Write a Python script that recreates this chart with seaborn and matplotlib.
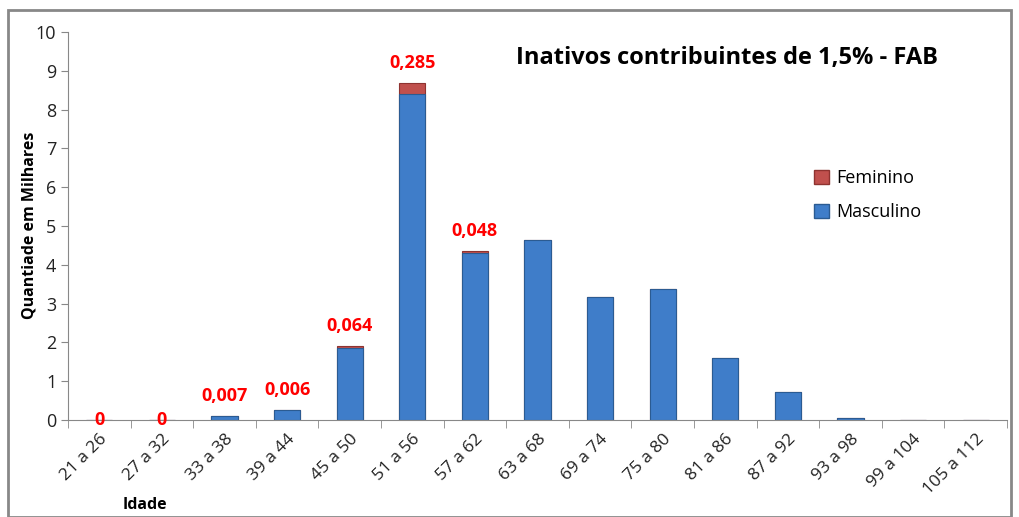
import pandas as pd
import matplotlib.pyplot as plt
import matplotlib.patches as mpatches
import seaborn as sns

# data (thousands)
faixas = ['21 a 26', '27 a 32', '33 a 38', '39 a 44', '45 a 50', '51 a 56', '57 a 62', '63 a 68',
          '69 a 74', '75 a 80', '81 a 86', '87 a 92', '93 a 98', '99 a 104', '105 a 112']
masculino = [0.005, 0.005, 0.10, 0.25, 1.85, 8.41, 4.31, 4.64, 3.18, 3.37, 1.60, 0.73, 0.06, 0.005, 0.005]
feminino = [0, 0, 0.007, 0.006, 0.064, 0.285, 0.048, 0.004, 0.002, 0.002, 0.001, 0.001, 0, 0, 0]
rotulos = ['0', '0', '0,007', '0,006', '0,064', '0,285', '0,048', '', '', '', '', '', '', '', '']

data = pd.DataFrame({'Idade': faixas, 'Masculino': masculino, 'Feminino': feminino})
data['Total'] = data['Masculino'] + data['Feminino']

sns.set_style("white")
plt.rcParams['font.family'] = ['Open Sans', 'DejaVu Sans']
plt.rcParams['text.color'] = 'black'

fig = plt.figure(figsize=(10.19, 5.17), dpi=100)
ax = fig.add_axes([68 / 1019, 1 - 420 / 517, (1007 - 68) / 1019, (420 - 32) / 517])

# stacked bars: total (red) behind, male (blue) in front
sns.barplot(data=data, x='Idade', y='Total', color='#C0504D', width=0.42, saturation=1,
            edgecolor='#8E3330', linewidth=0.8, ax=ax)
sns.barplot(data=data, x='Idade', y='Masculino', color='#3F7DC9', width=0.42, saturation=1,
            edgecolor='#2B5B92', linewidth=0.8, ax=ax)

# value labels for the female series
for i, txt in enumerate(rotulos):
    if not txt:
        continue
    if data['Total'][i] < 0.01:
        ax.text(i, 0, txt, color='red', fontsize=13, fontweight='bold', ha='center', va='center')
    else:
        ax.annotate(txt, (i, data['Total'][i]), xytext=(0, 8), textcoords='offset points',
                    color='red', fontsize=13, fontweight='bold', ha='center', va='bottom')

ax.set_ylim(0, 10)
ax.set_xlim(-0.5, len(faixas) - 0.5)
ax.set_yticks(range(0, 11))
ax.tick_params(axis='y', labelsize=13, length=5, color='#888888', left=True, labelcolor='#222222')
ax.set_xticks(range(len(faixas)))
ax.set_xticklabels(faixas, rotation=45, ha='right', rotation_mode='anchor', fontsize=12.5, color='#222222')
ax.tick_params(axis='x', length=0, pad=8)
# category separator ticks
ax.set_xticks([i - 0.5 for i in range(len(faixas) + 1)], minor=True)
ax.tick_params(axis='x', which='minor', length=6, color='#888888', bottom=True)

for side in ['top', 'right']:
    ax.spines[side].set_visible(False)
for side in ['left', 'bottom']:
    ax.spines[side].set_color('#888888')

ax.set_xlabel('')
ax.set_ylabel('')
fig.text(30 / 1019, 1 - 225 / 517, 'Quantiade em Milhares', fontsize=11.5, fontweight='bold',
         rotation=90, ha='center', va='center')
fig.text(145 / 1019, 1 - 505 / 517, 'Idade', fontsize=11.5, fontweight='bold', ha='center', va='center')

fig.text(727 / 1019, 1 - 58 / 517, 'Inativos contribuintes de 1,5% - FAB',
         fontsize=17, fontweight='bold', ha='center', va='center')

handles = [mpatches.Patch(facecolor='#C0504D', edgecolor='#8E3330', label='Feminino'),
           mpatches.Patch(facecolor='#3F7DC9', edgecolor='#2B5B92', label='Masculino')]
fig.legend(handles=handles, loc='center left', bbox_to_anchor=(798 / 1019, 1 - 195 / 517), frameon=False,
           fontsize=13, handlelength=0.8, handleheight=0.8, handletextpad=0.4, labelspacing=0.9)

# outer chart border
fig.patches.append(mpatches.Rectangle((8 / 1019, 0), 1 - 16 / 1019, 1 - 10 / 517,
                                      transform=fig.transFigure, fill=False,
                                      edgecolor='#888888', linewidth=2))

fig.savefig('out.png', dpi=100)
